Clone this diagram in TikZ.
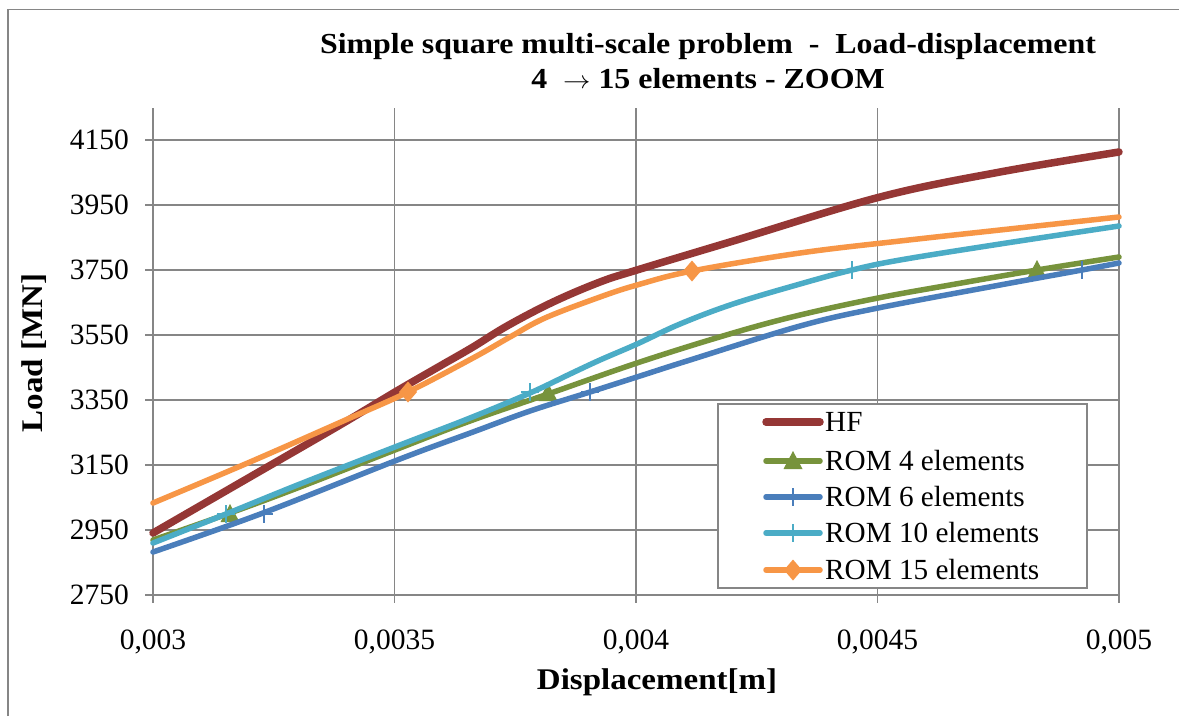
\documentclass[tikz,border=0pt]{standalone}
\usepackage{fontspec}
\setmainfont{Liberation Serif}
\usetikzlibrary{shapes.geometric}
\definecolor{hfred}{RGB}{149,55,53}
\definecolor{romgreen}{RGB}{119,147,60}
\definecolor{romblue}{RGB}{74,126,187}
\definecolor{romcyan}{RGB}{75,172,198}
\definecolor{romorange}{RGB}{247,150,70}
\definecolor{gridgray}{RGB}{134,134,134}
\tikzset{
  tri/.pic={\fill[romgreen] (0,-10) -- (9.5,8) -- (-9.5,8) -- cycle;},
  diam/.pic={\fill[romorange] (0,-10.5) -- (9,0) -- (0,10.5) -- (-9,0) -- cycle;},
  plusmark/.pic={\draw[#1,line width=2pt] (0,-9) -- (0,9) (-9,0) -- (9,0);},
}
% wide bold lettering for the chart titles
\newcommand{\widebold}[1]{\scalebox{1.1}[1]{#1}}
\begin{document}
\begin{tikzpicture}[x=1pt,y=-1pt,
  gridline/.style={draw=gridgray,line width=1.6pt},
  frameline/.style={draw=gridgray,line width=1.4pt},
  curve/.style={line width=5.5pt,line cap=round,line join=round},
  hfcurve/.style={curve,line width=7.5pt},
  ticklbl/.style={font=\fontsize{29.5}{31}\selectfont,inner sep=0pt},
  titlelbl/.style={font=\fontsize{29}{34}\selectfont\bfseries,inner sep=0pt,anchor=base},
  axislbl/.style={font=\fontsize{30}{32}\selectfont\bfseries,inner sep=0pt},
  legendlbl/.style={font=\fontsize{29.2}{31}\selectfont,inner sep=0pt,anchor=west},
  smoothplot/.style={smooth,tension=0.6}
]
\useasboundingbox (0,0) rectangle (1179,716);
\fill[white] (0,0) rectangle (1179,716);

% chart frame (left and top edges)
\draw[frameline] (8,716) -- (8,9.5) -- (1179,9.5);

% title
\node[titlelbl] (title1) at (708,53) {\widebold{Simple square multi-scale problem~~-~~Load-displacement}};
\node[titlelbl] (title2) at (708,88) {\widebold{4~~$\rightarrow$ 15 elements - ZOOM}};

% horizontal grid lines with ticks and labels
\foreach \v [count=\i from 0] in {2750,2950,3150,3350,3550,3750,3950,4150} {
  \pgfmathsetmacro{\yy}{595-65*\i}
  \draw[gridline] (145,\yy) -- (1119,\yy);
  \node[ticklbl,anchor=east] (ylab\i) at (129,\yy) {\v};
}
% vertical grid lines with ticks and labels
\foreach \v [count=\i from 0] in {0{,}003,0{,}0035,0{,}004,0{,}0045,0{,}005} {
  \pgfmathsetmacro{\xx}{153+241.5*\i}
  \draw[gridline] (\xx,108) -- (\xx,603);
  \node[ticklbl,anchor=base] (xlab\i) at (\xx,649) {\v};
}

% axis titles
\node[axislbl,anchor=base] (xtitle) at (657,689) {\widebold{Displacement[m]}};
\node[axislbl,rotate=90] (ytitle) at (34,353) {\widebold{Load [MN]}};

% HF
\draw[hfcurve,hfred] plot[smoothplot] coordinates {
  (153,533) (250,477) (340,425) (395,392) (440,366) (473,347) (507,326)
  (553,302) (600,282) (637,270) (730,242) (880,197) (1000,172) (1119,152)};

% ROM 4 elements
\draw[curve,romgreen] plot[smoothplot] coordinates {
  (153,540) (230,513) (300,487) (400,448) (470,421) (548,394) (643,361)
  (733,333) (800,315) (878,298) (950,285) (1037,270) (1119,257)};
\pic at (230,514) {tri};
\pic at (548,393) {tri};
\pic at (1037,270) {tri};

% ROM 6 elements
\draw[curve,romblue] plot[smoothplot] coordinates {
  (153,552) (263,513) (400,459) (473,432) (530,411) (590,392) (640,376)
  (690,360) (800,326) (878,308) (1000,285) (1082,270) (1119,263)};
\pic at (264,514) {plusmark=romblue};
\pic at (590,392) {plusmark=romblue};
\pic at (1082,270) {plusmark=romblue};

% ROM 10 elements
\draw[curve,romcyan] plot[smoothplot] coordinates {
  (153,543) (226,514) (300,484) (400,445) (470,418) (530,393) (570,374)
  (600,360) (637,344) (680,324) (733,304) (800,284) (852,270) (900,260)
  (1000,244) (1119,226)};
\pic at (226,514) {plusmark=romcyan};
\pic at (530,392) {plusmark=romcyan};
\pic at (852,270) {plusmark=romcyan};

% ROM 15 elements
\draw[curve,romorange] plot[smoothplot] coordinates {
  (153,503) (250,462) (350,418) (408,392) (473,358) (510,337) (545,318)
  (600,297) (637,285) (692,271) (800,253) (900,241) (1000,230) (1119,217)};
\pic at (408,392) {diam};
\pic at (692,271) {diam};

% legend
\draw[gridline,fill=white] (718,404) rectangle (1087,588);
\coordinate (s1a) at (766,422); \coordinate (s1b) at (820,422);
\coordinate (s2a) at (766,461); \coordinate (s2b) at (820,461);
\coordinate (s3a) at (766,497); \coordinate (s3b) at (820,497);
\coordinate (s4a) at (766,533); \coordinate (s4b) at (820,533);
\coordinate (s5a) at (766,570); \coordinate (s5b) at (820,570);
\draw[hfcurve,hfred] (s1a) -- (s1b);
\draw[curve,romgreen] (s2a) -- (s2b);
\pic at (793,461) {tri};
\draw[curve,romblue] (s3a) -- (s3b);
\pic at (793,497) {plusmark=romblue};
\draw[curve,romcyan] (s4a) -- (s4b);
\pic at (793,533) {plusmark=romcyan};
\draw[curve,romorange] (s5a) -- (s5b);
\pic at (793,570) {diam};
\node[legendlbl] (lg1) at (825,422) {HF};
\node[legendlbl] (lg2) at (825,461) {ROM 4 elements};
\node[legendlbl] (lg3) at (825,497) {ROM 6 elements};
\node[legendlbl] (lg4) at (825,533) {ROM 10 elements};
\node[legendlbl] (lg5) at (825,570) {ROM 15 elements};
\end{tikzpicture}
\end{document}
